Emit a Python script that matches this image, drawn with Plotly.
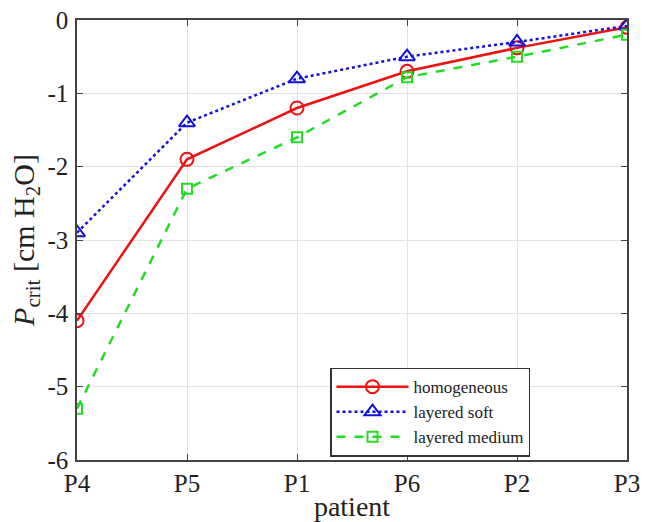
import plotly.graph_objects as go

# Critical pressure per patient for three tissue models
patients = ["P4", "P5", "P1", "P6", "P2", "P3"]
homogeneous = [-4.1, -1.9, -1.2, -0.7, -0.38, -0.1]
layered_soft = [-2.9, -1.4, -0.8, -0.5, -0.3, -0.08]
layered_medium = [-5.3, -2.3, -1.6, -0.78, -0.5, -0.2]

y_ticks = [0, -1, -2, -3, -4, -5, -6]
y_ticktext = ["0", "-1", "-2", "-3", "-4", "-5", "-6"]

x = list(range(len(patients)))
font_family = "Liberation Serif, DejaVu Serif, serif"
text_color = "#222222"

fig = go.Figure()
fig.add_trace(go.Scatter(
    x=x, y=homogeneous, name="homogeneous", mode="lines+markers",
    line=dict(color="#ee1111", width=2.5, dash="solid"),
    marker=dict(symbol="circle-open", size=13, color="#ee1111", line=dict(width=2)),
))
fig.add_trace(go.Scatter(
    x=x, y=layered_soft, name="layered soft", mode="lines+markers",
    line=dict(color="#1111dd", width=2.5, dash="dot"),
    marker=dict(symbol="triangle-up-open", size=14, color="#1111dd", line=dict(width=2)),
))
fig.add_trace(go.Scatter(
    x=x, y=layered_medium, name="layered medium", mode="lines+markers",
    line=dict(color="#22dd22", width=2.5, dash="dash"),
    marker=dict(symbol="square-open", size=10, color="#22dd22", line=dict(width=2)),
))

axis_common = dict(
    showline=True, mirror="ticks", linecolor="#444444", linewidth=1.5,
    ticks="inside", ticklen=6, tickcolor="#444444",
    showgrid=True, gridcolor="#e2e2e2", gridwidth=1, zeroline=False,
    tickfont=dict(family=font_family, size=25, color=text_color),
    automargin=False,
)

fig.update_xaxes(
    tickmode="array", tickvals=x, ticktext=patients, range=[0, len(patients) - 1],
    ticklabelstandoff=0,
    title=dict(text="patient", font=dict(family=font_family, size=28, color=text_color), standoff=8),
    **axis_common,
)
fig.update_yaxes(
    tickmode="array", tickvals=y_ticks, ticktext=y_ticktext, range=[-6, 0],
    ticklabelstandoff=2,
    title=dict(text="<i>P</i><sub>crit</sub> [cm H<sub>2</sub>O]",
               font=dict(family=font_family, size=30, color=text_color), standoff=4),
    **axis_common,
)

fig.update_layout(
    width=649, height=522,
    margin=dict(l=77, r=22, t=20, b=62),
    plot_bgcolor="white", paper_bgcolor="white",
    font=dict(family=font_family, color=text_color),
    legend=dict(
        x=0.46, y=0.21, xanchor="left", yanchor="top",
        bgcolor="white", bordercolor="#333333", borderwidth=1.5,
        font=dict(family=font_family, size=17, color=text_color),
        tracegroupgap=0, itemwidth=72,
    ),
)

fig.write_html("out.html")
